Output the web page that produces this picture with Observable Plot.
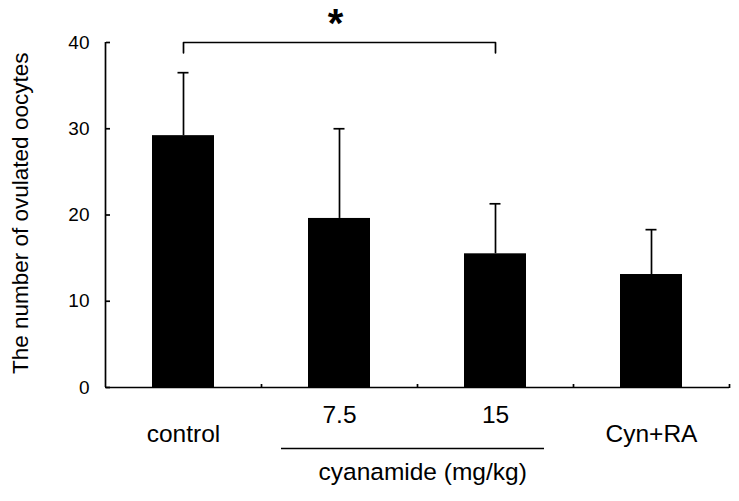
<!DOCTYPE html>
<html><head><meta charset="utf-8">
<script src="https://cdn.jsdelivr.net/npm/d3@7"></script>
<script src="https://cdn.jsdelivr.net/npm/@observablehq/plot@0.6"></script>
<style>body{margin:0;background:#fff;} svg{display:block}</style>
</head><body><div id="chart"></div>
<script>
const categories = ["control", "7.5", "15", "Cyn+RA"];
const means = [29.2, 19.6, 15.5, 13.1];
const errors = [7.3, 10.4, 5.8, 5.2];
const yTicks = [0, 10, 20, 30, 40];
const outerLabels = ["control", "Cyn+RA"];
const doseLabels = ["7.5", "15"];
const groupLabel = "cyanamide (mg/kg)";
const yLabel = "The number of ovulated oocytes";
const sigPair = ["control", "15"];
const sigLabel = "*";
const bracketTop = 40;
const bracketFoot = 38.8;

const data = categories.map((c, i) => ({cat: c, mean: means[i], upper: means[i] + errors[i]}));
const bracket = [
  {cat: sigPair[0], y: bracketFoot}, {cat: sigPair[0], y: bracketTop},
  {cat: sigPair[1], y: bracketTop}, {cat: sigPair[1], y: bracketFoot}
];

const W = 739, H = 501, mL = 105, mR = 10, mT = 42, mB = 114;
const step = (W - mL - mR) / categories.length;
const font = "'Liberation Sans', Arial, Helvetica, sans-serif";
const sw = 1.7;

const chart = Plot.plot({
  width: W, height: H, marginLeft: mL, marginRight: mR, marginTop: mT, marginBottom: mB,
  style: {fontFamily: font, background: "#fff", color: "#000", overflow: "visible"},
  x: {domain: categories, paddingInner: 0.6, paddingOuter: 0.3, axis: null},
  y: {domain: [yTicks[0], yTicks[yTicks.length - 1]], axis: null},
  marks: [
    Plot.barY(data, {x: "cat", y: "mean", fill: "#000"}),
    Plot.ruleX(data, {x: "cat", y1: "mean", y2: "upper", stroke: "#000", strokeWidth: sw}),
    Plot.tickY(data, {x: "cat", y: "upper", stroke: "#000", strokeWidth: sw, insetLeft: 25.5, insetRight: 25.5}),
    Plot.ruleY([yTicks[0]], {stroke: "#000", strokeWidth: sw}),
    Plot.ruleX([categories[0]], {x: d => d, y1: () => yTicks[0], y2: () => yTicks[yTicks.length - 1], dx: -step / 2, stroke: "#000", strokeWidth: sw}),
    Plot.axisY(yTicks, {anchor: "right", frameAnchor: "left", tickSize: 4, fill: "none", label: null, strokeWidth: sw}),
    Plot.axisY(yTicks, {tickSize: 0, tickPadding: 16, fontSize: 19, label: null}),
    Plot.axisX(categories, {anchor: "top", frameAnchor: "bottom", tickSize: 4, dx: step / 2, fill: "none", label: null, strokeWidth: sw}),
    Plot.text(outerLabels, {x: d => d, text: d => d, frameAnchor: "bottom", dy: 54.6, fontSize: 24.5}),
    Plot.text(doseLabels, {x: d => d, text: d => d, frameAnchor: "bottom", dy: 35.6, fontSize: 24.5}),
    Plot.ruleY([groupLabel], {y: () => yTicks[0], x1: () => doseLabels[0], x2: () => doseLabels[1], dy: 61, insetLeft: -27, insetRight: -18, stroke: "#000", strokeWidth: sw}),
    Plot.text([groupLabel], {x: () => doseLabels[0], text: d => d, frameAnchor: "bottom", textAnchor: "start", dx: -21, dy: 92.6, fontSize: 24.5}),
    Plot.text([yLabel], {frameAnchor: "left", textAnchor: "middle", text: d => d, rotate: -90, dx: -84.7, dy: -1.7, fontSize: 22.5}),
    Plot.line(bracket, {x: "cat", y: "y", stroke: "#000", strokeWidth: sw}),
    Plot.text([sigLabel], {x: () => categories[1], y: () => bracketTop, text: d => d, dx: -4, dy: -18, fontSize: 40, fontWeight: "bold"})
  ]
});
document.getElementById("chart").appendChild(chart);
</script>
</body></html>
